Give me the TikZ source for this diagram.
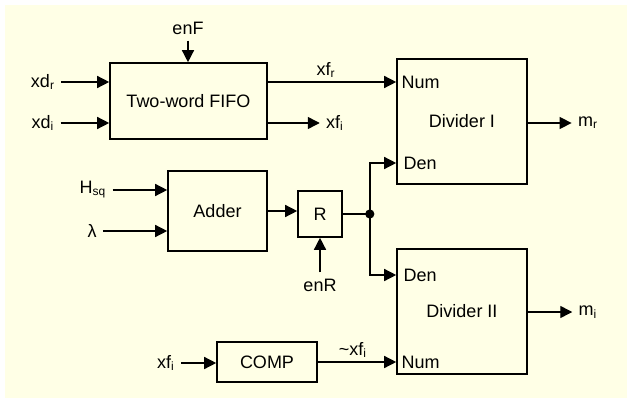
\documentclass[tikz,border=0pt]{standalone}
\usepackage{fontspec}
\setmainfont{Liberation Sans}
\usetikzlibrary{arrows.meta,positioning,calc}
\definecolor{bgyellow}{RGB}{255,255,230}

\begin{document}
\begin{tikzpicture}[x=0.5pt,y=-0.5pt,
  font=\fontsize{9}{11}\selectfont,
  blk/.style={draw,line width=0.8pt,inner sep=0pt},
  sig/.style={line width=0.7pt,-{Triangle[length=6pt,width=6pt]}},
  wire/.style={line width=0.7pt},
  lbl/.style={inner sep=3pt},
  port/.style={anchor=west,inner sep=2.5pt}]
\useasboundingbox (0,0) rectangle (632,401);
\fill[bgyellow] (5,5) rectangle (627,398);

% Blocks
\node[blk,minimum width=78.5pt,minimum height=38pt] (fifo) at (188.5,101) {Two-word FIFO};
\node[blk,minimum width=65pt,minimum height=62.5pt] (divI) at (462,121.5) {Divider I};
\node[blk,minimum width=49.5pt,minimum height=40pt] (adder) at (217.5,211) {Adder};
\node[blk,minimum width=22pt,minimum height=23pt] (reg) at (320,214) {R};
\node[blk,minimum width=65pt,minimum height=62.5pt] (divII) at (462,311.5) {Divider II};
\node[blk,minimum width=50pt,minimum height=20pt] (comp) at (267,362) {COMP};

% Ports
\node[port] (numI) at (divI.west |- 0,82) {Num};
\node[port,inner sep=3.5pt] (denI) at (divI.west |- 0,163) {Den};
\node[port,inner sep=3.5pt] (denII) at (divII.west |- 0,275) {Den};
\node[port] (numII) at (divII.west |- comp) {Num};

% Inputs and outputs
\node[lbl] (enF) at (188,28) {enF};
\node[lbl] (xdr) at (43,82) {xd\textsubscript{r}};
\node[lbl] (xdi) at (43,123) {xd\textsubscript{i}};
\node[lbl] (xfr) at (326,70) {xf\textsubscript{r}};
\node[lbl] (xfi) at (335,123) {xf\textsubscript{i}};
\node[lbl] (mr) at (588,123) {m\textsubscript{r}};
\node[lbl] (hsq) at (93,190) {H\textsubscript{sq}};
\node[lbl] (lam) at (92,231) {λ};
\node[lbl] (enR) at (320,285) {enR};
\node[lbl] (mi) at (588,312) {m\textsubscript{i}};
\node[lbl] (xfiin) at (166,363) {xf\textsubscript{i}};
\node[lbl] (nxfi) at (353,350) {\textasciitilde xf\textsubscript{i}};

% Connections
\draw[sig] (enF) -- (enF |- fifo.north);
\draw[sig] (xdr) -- (fifo.west |- xdr);
\draw[sig] (xdi) -- (fifo.west |- xdi);
\draw[sig] (fifo.east |- numI) -- (divI.west |- numI);
\draw[sig] (fifo.east |- xfi) -- (xfi);
\draw[sig] (divI.east |- mr) -- (mr);
\draw[sig] (hsq) -- (adder.west |- hsq);
\draw[sig] (lam) -- (adder.west |- lam);
\draw[sig] (adder.east) -- (adder.east -| reg.west);
\draw[sig] (enR) -- (enR |- reg.south);
\coordinate (jn) at ($(reg.east)+(27,0)$);
\draw[wire] (reg.east) -- (jn);
\fill (jn) circle (2.3pt);
\draw[sig] (jn) |- (divI.west |- denI);
\draw[sig] (jn) |- (divII.west |- denII);
\draw[sig] (divII.east |- mi) -- (mi);
\draw[sig] (xfiin) -- (comp.west |- xfiin);
\draw[sig] (comp.east |- numII) -- (divII.west |- numII);
\end{tikzpicture}
\end{document}
